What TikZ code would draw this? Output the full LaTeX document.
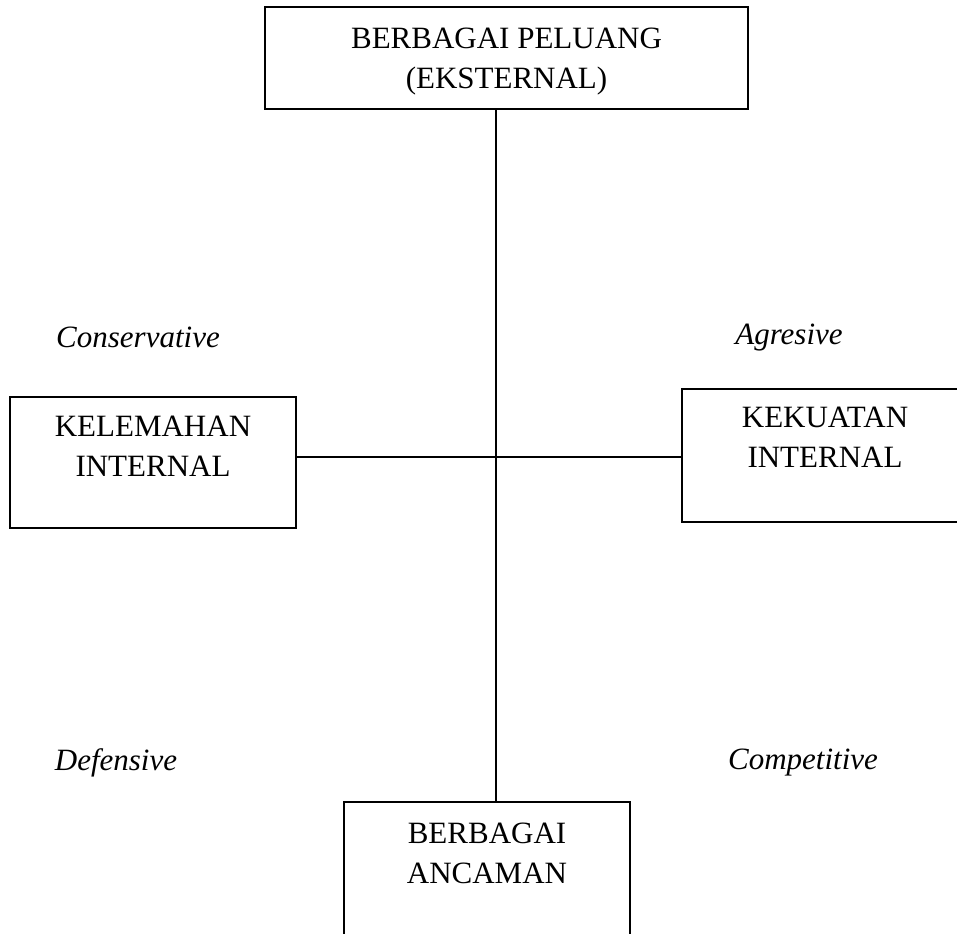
\documentclass[tikz,border=0pt]{standalone}
\usepackage{fontspec}
\setmainfont{Liberation Serif}
\usepackage{tikz}
\usetikzlibrary{positioning}

\tikzset{
	kotak/.style={draw,line width=2pt,align=center,inner sep=0pt,font=\fontsize{31}{40}\selectfont},
	strategi/.style={font=\fontsize{31}{40}\selectfont\itshape}
}

\begin{document}
\begin{tikzpicture}[x=1pt,y=-1pt]
	\clip (0,0) rectangle (957,933);
	
	% Eksternal
	\node (peluang) at (506.5,58) [kotak,minimum width=483pt,minimum height=102pt,text depth=0pt] {BERBAGAI PELUANG\\(EKSTERNAL)};
	\node (ancaman) at (487,872) [kotak,minimum width=286pt,minimum height=140pt] {BERBAGAI\\ANCAMAN\\[-1.5pt] };
	
	% Internal
	\node (kelemahan) at (153,462.5) [kotak,minimum width=286pt,minimum height=131pt] {KELEMAHAN\\INTERNAL\\[-8.5pt] };
	\node (kekuatan) at (825,455.5) [kotak,minimum width=286pt,minimum height=133pt] {KEKUATAN\\INTERNAL\\[-4.5pt] };
	
	% Sumbu
	\coordinate (pusat) at (496,457);
	\draw[line width=2pt] (pusat |- peluang.south) -- (pusat |- ancaman.north);
	\draw[line width=2pt] (kelemahan.east |- pusat) -- (kekuatan.west |- pusat);
	
	% Kuadran
	\node (conservative) at (138,337) [strategi] {Conservative};
	\node (agresive) at (789,338) [strategi] {Agresive};
	\node (defensive) at (116,763) [strategi] {Defensive};
	\node (competitive) at (803,763) [strategi] {Competitive};
\end{tikzpicture}
\end{document}
